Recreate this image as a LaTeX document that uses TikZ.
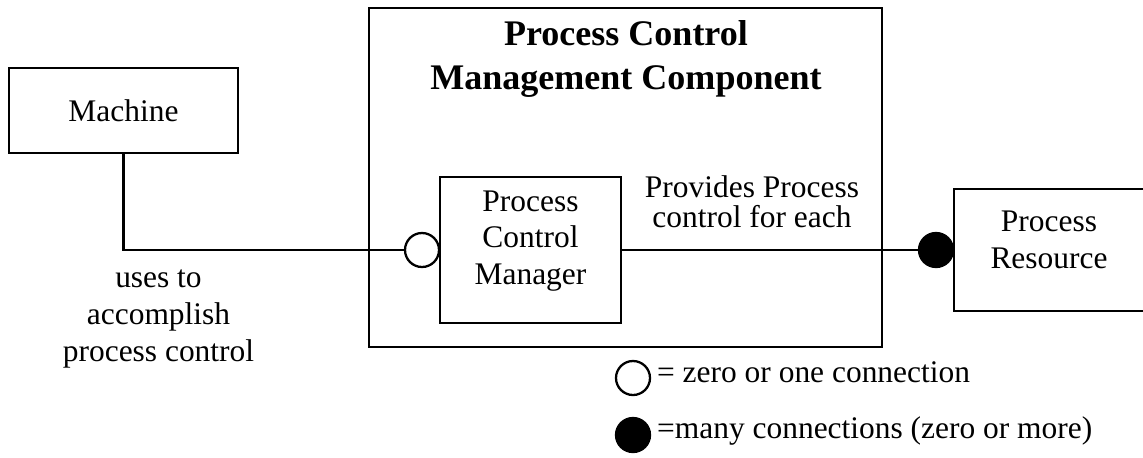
\documentclass[tikz,border=0pt]{standalone}
\usepackage{fontspec}
\setmainfont{Liberation Serif}
\begin{document}
\begin{tikzpicture}[x=0.02cm, y=-0.02cm, line width=1.3pt,
  txt/.style={font=\fontsize{17.9}{21}\selectfont, inner sep=0pt, align=center},
  titletxt/.style={font=\fontsize{20.5}{25.5}\selectfont\bfseries, inner sep=0pt, align=center},
  box/.style={draw, rectangle, inner sep=0pt},
  hollow/.style={draw, circle, fill=white, minimum size=0.68cm, inner sep=0pt},
  solid dot/.style={draw, circle, fill=black, minimum size=0.68cm, inner sep=0pt}]
\useasboundingbox (0,0) rectangle (1143,457);

% component frame and its title
\node[box, minimum width=10.26cm, minimum height=6.78cm] (pcmc) at (625.5,177.5) {};
\node[titletxt] (title) at (626,59) {Process Control\\Management Component};

% blocks
\node[box, txt, minimum width=4.58cm, minimum height=1.7cm] (machine) at (123.5,110.5) {Machine};
\node[box, minimum width=3.62cm, minimum height=2.92cm] (pcm) at (530.5,250) {};
\node[txt] (pcmlabel) at (530.5,241) {Process\\Control\\Manager};
\node[box, minimum width=3.92cm, minimum height=2.44cm] (res) at (1052,250) {};
\node[txt] (reslabel) at (1049,240) {Process\\Resource};

% connection ends
\node[hollow] (zo) at (422,250) {};
\node[solid dot] (many) at (936,250) {};

% connectors
\draw (machine.south) |- (zo.west);
\draw (pcm.east) -- (many.west);

% connector labels
\node[txt] (uses) at (158.5,319) {uses to\\accomplish\\process control};
\node[txt, font=\fontsize{17.9}{16.9}\selectfont] (provides) at (752,202) {Provides Process\\control for each};

% legend
\node[hollow] (key1) at (633,378) {};
\node[solid dot] (key2) at (633,435) {};
\node[txt, anchor=base west] (key1text) at (656,382) {= zero or one connection};
\node[txt, anchor=base west] (key2text) at (656,438) {=many connections (zero or more)};
\end{tikzpicture}
\end{document}
